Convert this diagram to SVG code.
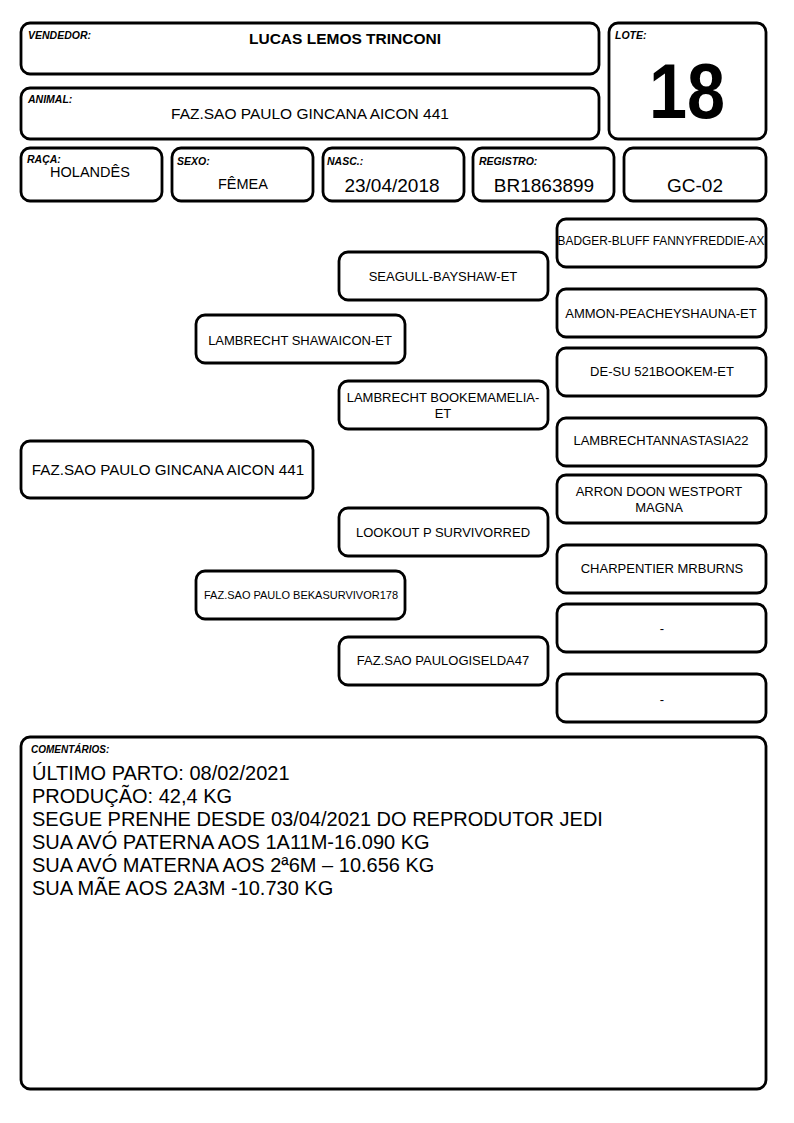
<svg xmlns="http://www.w3.org/2000/svg" width="794" height="1123" viewBox="0 0 794 1123">
<style>
.b{fill:#fff;stroke:#000;stroke-width:2.8}
text{font-family:"Liberation Sans",Arial,sans-serif;fill:#000}
.lbl{font-size:10.5px;font-weight:bold;font-style:italic}
.v{font-size:15.5px;text-anchor:middle}
.f{font-size:19px;text-anchor:middle}
.p{font-size:13px;text-anchor:middle}
.c{font-size:20px}
</style>
<rect width="794" height="1123" fill="#fff"/>
<g id="vendedor"><rect class="b" x="21" y="23" width="578" height="51" rx="9"/><text class="lbl" x="28" y="39">VENDEDOR:</text><text x="345" y="44" style="font-size:15.5px;font-weight:bold;text-anchor:middle">LUCAS LEMOS TRINCONI</text></g>
<g id="lote"><rect class="b" x="609" y="23" width="157" height="116" rx="9"/><text class="lbl" x="615" y="39">LOTE:</text><text x="687" y="118" style="font-size:77px;font-weight:bold;text-anchor:middle" textLength="76" lengthAdjust="spacingAndGlyphs">18</text></g>
<g id="animal"><rect class="b" x="21" y="88" width="578" height="51" rx="9"/><text class="lbl" x="28" y="103">ANIMAL:</text><text class="v" x="310" y="119">FAZ.SAO PAULO GINCANA AICON 441</text></g>
<g id="raca"><rect class="b" x="21" y="148" width="141" height="53" rx="9"/><text class="lbl" x="27" y="163">RAÇA:</text><text class="v" x="90" y="177" style="font-size:14.5px">HOLANDÊS</text></g>
<g id="sexo"><rect class="b" x="172" y="148" width="141" height="53" rx="9"/><text class="lbl" x="177" y="165">SEXO:</text><text class="v" x="243" y="189" style="font-size:14.5px">FÊMEA</text></g>
<g id="nasc"><rect class="b" x="323" y="148" width="141" height="53" rx="9"/><text class="lbl" x="327" y="165">NASC.:</text><text class="f" x="392" y="192">23/04/2018</text></g>
<g id="registro"><rect class="b" x="473" y="148" width="141" height="53" rx="9"/><text class="lbl" x="479" y="165">REGISTRO:</text><text class="f" x="544" y="192">BR1863899</text></g>
<g id="gc"><rect class="b" x="624" y="148" width="142" height="53" rx="9"/><text class="f" x="695" y="192">GC-02</text></g>

<g id="connectors"></g>

<g id="animal-node"><rect class="b" x="21" y="441" width="292" height="57" rx="9"/><text class="v" x="168" y="475" style="font-size:15.2px">FAZ.SAO PAULO GINCANA AICON 441</text></g>
<g id="pai"><rect class="b" x="196" y="315" width="209" height="48" rx="9"/><text class="p" x="300" y="345">LAMBRECHT SHAWAICON-ET</text></g>
<g id="mae"><rect class="b" x="196" y="571" width="209" height="48" rx="9"/><text class="p" x="301" y="599" style="font-size:11px">FAZ.SAO PAULO BEKASURVIVOR178</text></g>
<g id="avo-pp"><rect class="b" x="339" y="252" width="209" height="48" rx="9"/><text class="p" x="443" y="281">SEAGULL-BAYSHAW-ET</text></g>
<g id="avo-pm"><rect class="b" x="339" y="381" width="209" height="48" rx="9"/><text class="p" x="443" y="402">LAMBRECHT BOOKEMAMELIA-</text><text class="p" x="443" y="418">ET</text></g>
<g id="avo-mp"><rect class="b" x="339" y="508" width="209" height="48" rx="9"/><text class="p" x="443" y="537">LOOKOUT P SURVIVORRED</text></g>
<g id="avo-mm"><rect class="b" x="339" y="637" width="209" height="48" rx="9"/><text class="p" x="443" y="665">FAZ.SAO PAULOGISELDA47</text></g>
<g id="bis1"><rect class="b" x="557" y="219" width="209" height="48" rx="9"/><text class="p" x="661" y="245" style="font-size:11.9px">BADGER-BLUFF FANNYFREDDIE-AX</text></g>
<g id="bis2"><rect class="b" x="557" y="289" width="209" height="48" rx="9"/><text class="p" x="661" y="318">AMMON-PEACHEYSHAUNA-ET</text></g>
<g id="bis3"><rect class="b" x="557" y="348" width="209" height="48" rx="9"/><text class="p" x="662" y="376">DE-SU 521BOOKEM-ET</text></g>
<g id="bis4"><rect class="b" x="557" y="418" width="209" height="48" rx="9"/><text class="p" x="661" y="445">LAMBRECHTANNASTASIA22</text></g>
<g id="bis5"><rect class="b" x="557" y="475" width="209" height="48" rx="9"/><text class="p" x="659" y="496">ARRON DOON WESTPORT</text><text class="p" x="659" y="512">MAGNA</text></g>
<g id="bis6"><rect class="b" x="557" y="545" width="209" height="48" rx="9"/><text class="p" x="662" y="573">CHARPENTIER MRBURNS</text></g>
<g id="bis7"><rect class="b" x="557" y="604" width="209" height="48" rx="9"/><text class="p" x="662" y="633">-</text></g>
<g id="bis8"><rect class="b" x="557" y="674" width="209" height="48" rx="9"/><text class="p" x="662" y="704">-</text></g>

<g id="comentarios"><rect class="b" x="21" y="737" width="745" height="352" rx="9"/>
<text class="lbl" x="31" y="753" style="font-size:10px">COMENTÁRIOS:</text>
<text class="c" x="32" y="780">ÚLTIMO PARTO: 08/02/2021</text>
<text class="c" x="32" y="803">PRODUÇÃO: 42,4 KG</text>
<text class="c" x="32" y="826">SEGUE PRENHE DESDE 03/04/2021 DO REPRODUTOR JEDI</text>
<text class="c" x="32" y="849">SUA AVÓ PATERNA AOS 1A11M-16.090 KG</text>
<text class="c" x="32" y="872">SUA AVÓ MATERNA AOS 2ª6M – 10.656 KG</text>
<text class="c" x="32" y="895">SUA MÃE AOS 2A3M -10.730 KG</text>
</g>
</svg>
